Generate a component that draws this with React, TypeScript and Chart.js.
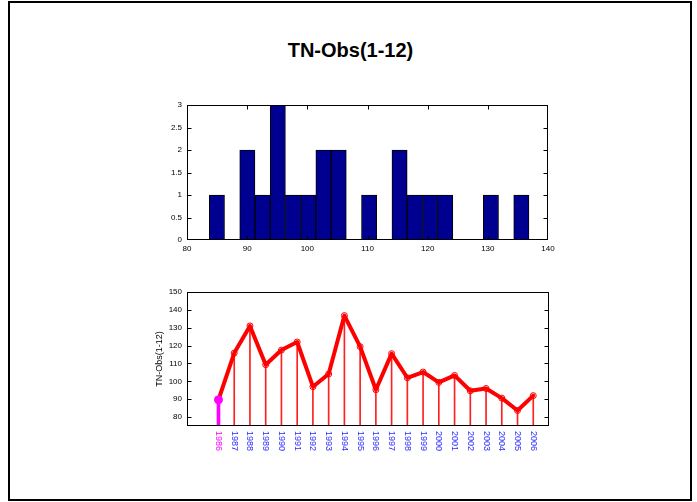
import React, { useEffect, useRef } from 'react';
import { Chart, registerables } from 'chart.js';

Chart.register(...registerables);

const FONT = "'Liberation Sans', Arial, Helvetica, sans-serif";

// Histogram (bin centres and counts)
const histBinCenters = [84.97, 87.5, 90.03, 92.56, 95.09, 97.62, 100.15, 102.68, 105.21, 107.74, 110.27, 112.8, 115.33, 117.86, 120.39, 122.92, 125.45, 127.98, 130.51, 133.04, 135.57];
const histCounts = [1, 0, 2, 1, 3, 1, 1, 2, 2, 0, 1, 0, 2, 1, 1, 1, 0, 0, 1, 0, 1];
const histXTicks = [80, 90, 100, 110, 120, 130, 140];
const histYTicks = [0, 0.5, 1, 1.5, 2, 2.5, 3];

// Time series
const years = [1986, 1987, 1988, 1989, 1990, 1991, 1992, 1993, 1994, 1995, 1996, 1997, 1998, 1999, 2000, 2001, 2002, 2003, 2004, 2005, 2006];
const tnObs = [89.7, 115.8, 131.0, 109.3, 117.5, 122.0, 97.0, 104.1, 136.8, 119.4, 95.3, 115.5, 102.0, 105.2, 99.4, 103.3, 94.7, 96.0, 90.6, 83.7, 92.0];
const lineYTicks = [80, 90, 100, 110, 120, 130, 140, 150];
const highlightYear = 1986;
const titleText = 'TN-Obs(1-12)';
const yLabelText = 'TN-Obs(1-12)';

function boxPlugin(xTicks: number[] | null, yTicks: number[]) {
  return {
    id: 'matlabBox',
    afterDatasetsDraw(chart: any) {
      const { ctx, chartArea: a, scales } = chart;
      const L = Math.round(a.left) + 0.5;
      const R = Math.round(a.right) - 0.5;
      const T = Math.round(a.top) + 0.5;
      const B = Math.round(a.bottom) - 0.5;
      const clamp = (v: number, lo: number, hi: number) => Math.min(hi, Math.max(lo, v));
      ctx.save();
      ctx.strokeStyle = '#000';
      ctx.lineWidth = 1;
      ctx.strokeRect(L, T, R - L, B - T);
      ctx.beginPath();
      for (const v of yTicks) {
        const y = clamp(Math.round(scales.y.getPixelForValue(v)) + 0.5, T, B);
        ctx.moveTo(L, y); ctx.lineTo(L + 4, y);
        ctx.moveTo(R, y); ctx.lineTo(R - 4, y);
      }
      if (xTicks) {
        for (const v of xTicks) {
          const x = clamp(Math.round(scales.x.getPixelForValue(v)) + 0.5, L, R);
          ctx.moveTo(x, B); ctx.lineTo(x, B - 4);
          ctx.moveTo(x, T); ctx.lineTo(x, T + 4);
        }
      }
      ctx.stroke();
      ctx.restore();
    },
  };
}

const yearLabelsPlugin = {
  id: 'yearLabels',
  afterDraw(chart: any) {
    const { ctx, chartArea: a, scales } = chart;
    ctx.save();
    ctx.font = `9px ${FONT}`;
    ctx.textAlign = 'left';
    ctx.textBaseline = 'middle';
    years.forEach((yr) => {
      const x = scales.x.getPixelForValue(yr);
      ctx.save();
      ctx.translate(x, a.bottom + 5);
      ctx.rotate(Math.PI / 2);
      ctx.fillStyle = yr === highlightYear ? '#ff00ff' : '#2a2aff';
      ctx.fillText(String(yr), 0, 0);
      ctx.restore();
    });
    ctx.restore();
  },
};

export default function App() {
  const histRef = useRef<HTMLCanvasElement>(null);
  const lineRef = useRef<HTMLCanvasElement>(null);

  useEffect(() => {
    const tickFont = { family: FONT, size: 8 };
    const plain = (v: any) => String(v);

    const hist = new Chart(histRef.current as HTMLCanvasElement, {
      type: 'bar',
      data: {
        datasets: [
          {
            data: histBinCenters.map((x, i) => ({ x, y: histCounts[i] })),
            backgroundColor: '#000090',
            borderColor: '#000000',
            borderWidth: 1,
            borderSkipped: false,
            barPercentage: 1,
            categoryPercentage: 1,
          } as any,
        ],
      },
      options: {
        animation: false,
        responsive: false,
        layout: { padding: { left: 157, right: 149, top: 105, bottom: 0 } },
        plugins: { legend: { display: false }, tooltip: { enabled: false } },
        scales: {
          x: {
            type: 'linear',
            min: 80,
            max: 140,
            offset: false,
            grid: { display: false, drawTicks: false },
            border: { display: false },
            ticks: { font: tickFont, color: '#000', padding: 4, maxRotation: 0, callback: plain },
            afterBuildTicks: (s: any) => { s.ticks = histXTicks.map((v) => ({ value: v })); },
            afterFit: (s: any) => { s.height = 20; },
          },
          y: {
            min: 0,
            max: 3,
            grid: { display: false, drawTicks: false },
            border: { display: false },
            ticks: { font: tickFont, color: '#000', padding: 5, callback: plain },
            afterBuildTicks: (s: any) => { s.ticks = histYTicks.map((v) => ({ value: v })); },
            afterFit: (s: any) => { s.width = 30; },
          },
        },
      } as any,
      plugins: [boxPlugin(histXTicks, histYTicks)],
    });

    const hi = years.indexOf(highlightYear);
    const line = new Chart(lineRef.current as HTMLCanvasElement, {
      type: 'line',
      data: {
        datasets: [
          {
            type: 'line',
            data: [{ x: years[hi], y: tnObs[hi] }],
            showLine: false,
            pointRadius: 4,
            pointBackgroundColor: '#ff00ff',
            pointBorderColor: '#ff00ff',
            pointBorderWidth: 1,
            order: 0,
          },
          {
            type: 'bar',
            data: [{ x: years[hi], y: [75, tnObs[hi]] }],
            backgroundColor: '#ff00ff',
            barThickness: 3,
            grouped: false,
            order: 1,
          },
          {
            type: 'line',
            data: years.map((x, i) => ({ x, y: tnObs[i] })),
            borderColor: '#ff0000',
            borderWidth: 4,
            borderJoinStyle: 'round',
            borderCapStyle: 'round',
            tension: 0,
            pointRadius: 3,
            pointBorderWidth: 1,
            pointBorderColor: '#ff0000',
            pointBackgroundColor: 'rgba(0,0,0,0)',
            order: 2,
          },
          {
            type: 'bar',
            data: years.map((x, i) => ({ x, y: [75, tnObs[i]] })),
            backgroundColor: '#ff2020',
            barThickness: 1,
            grouped: false,
            order: 3,
          },
        ] as any,
      },
      options: {
        animation: false,
        responsive: false,
        layout: { padding: { left: 150, right: 148, top: 32, bottom: 46 } },
        plugins: { legend: { display: false }, tooltip: { enabled: false } },
        scales: {
          x: {
            type: 'linear',
            min: 1984,
            max: 2007,
            offset: false,
            grid: { display: false, drawTicks: false },
            border: { display: false },
            ticks: { display: false },
            afterFit: (s: any) => { s.height = 30; },
          },
          y: {
            min: 75,
            max: 150,
            grid: { display: false, drawTicks: false },
            border: { display: false },
            ticks: { font: tickFont, color: '#000', padding: 5, callback: plain },
            title: { display: true, text: yLabelText, font: { family: FONT, size: 9 }, color: '#000', padding: { top: 4, bottom: 4 } },
            afterBuildTicks: (s: any) => { s.ticks = lineYTicks.map((v) => ({ value: v })); },
            afterFit: (s: any) => { s.width = 37; },
          },
        },
      } as any,
      plugins: [boxPlugin(null, lineYTicks), yearLabelsPlugin],
    });

    return () => {
      hist.destroy();
      line.destroy();
    };
  }, []);

  return (
    <div style={{ position: 'absolute', left: 0, top: 0, width: 697, height: 502, background: '#fff', overflow: 'hidden' }}>
      <div style={{ position: 'absolute', left: 8, top: 1, width: 684, height: 500, border: '2px solid #000', boxSizing: 'border-box' }} />
      <div style={{ position: 'absolute', left: 2, top: 40, width: 697, textAlign: 'center', font: `bold 20px ${FONT}`, lineHeight: '20px', color: '#000' }}>
        {titleText}
      </div>
      <canvas ref={histRef} width={697} height={260} style={{ position: 'absolute', left: 0, top: 0 }} />
      <canvas ref={lineRef} width={697} height={242} style={{ position: 'absolute', left: 0, top: 260 }} />
    </div>
  );
}
